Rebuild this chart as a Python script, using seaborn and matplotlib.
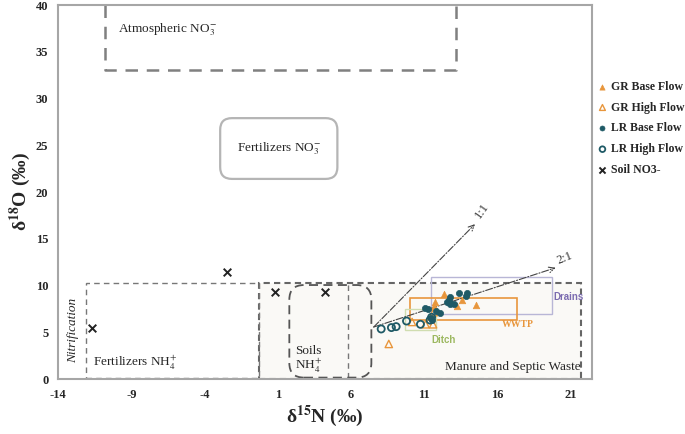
import matplotlib
matplotlib.use("Agg")
import matplotlib.pyplot as plt
from matplotlib.patches import Rectangle, FancyBboxPatch
import seaborn as sns

# values (d15N, d18O)
gr_base_x = [12.34, 11.72, 14.55, 13.55, 13.25, 11.65]
gr_base_y = [9.1, 8.2, 7.95, 8.4, 7.8, 7.8]
gr_high_x = [8.58, 10.17, 11.09, 11.6, 11.65]
gr_high_y = [3.75, 6.1, 5.85, 5.85, 7.15]
lr_base_x = [11.02, 11.25, 11.77, 12.07, 12.52, 12.68, 12.79, 13.02, 13.36, 13.82, 13.94, 11.52, 11.43, 12.73]
lr_base_y = [7.55, 7.5, 7.3, 7.1, 8.2, 8.4, 8.8, 8.05, 9.25, 8.9, 9.2, 6.35, 6.5, 8.0]
lr_high_x = [8.06, 8.76, 9.08, 9.79, 10.74, 11.5, 11.4]
lr_high_y = [5.35, 5.5, 5.6, 6.2, 5.85, 6.6, 6.3]
soil_x = [-11.7, -2.47, 0.83, 4.2]
soil_y = [5.5, 11.4, 9.3, 9.3]

x_ticks = [-14, -9, -4, 1, 6, 11, 16, 21]
y_ticks = [0, 5, 10, 15, 20, 25, 30, 35, 40]

ORANGE = "#e8963c"
TEAL = "#1f5a66"

sns.set_style("white")
plt.rcParams["font.family"] = ["Liberation Serif", "DejaVu Serif"]
plt.rcParams["mathtext.fontset"] = "stix"
plt.rcParams["axes.unicode_minus"] = False

fig = plt.figure(figsize=(6.85, 4.34), dpi=100)
ax = fig.add_axes([58 / 685, 1 - 379 / 434, (592 - 58) / 685, (379 - 5) / 434])

# source regions
ax.add_patch(Rectangle((-0.26, 0.05), 21.96, 10.25, facecolor="#faf9f6",
                       edgecolor="#666666", lw=1.5, ls=(0, (3, 2)), zorder=1))
ax.add_patch(Rectangle((-12.1, 0.1), 11.84, 10.2, facecolor="none",
                       edgecolor="#777777", lw=1.0, ls=(0, (4, 3)), zorder=1))
ax.plot([5.82, 5.82], [0.1, 10.3], color="#777777", lw=1.0, ls=(0, (4, 3)), zorder=1)
ax.add_patch(FancyBboxPatch((1.79, 0.15), 5.6, 9.9,
                            boxstyle="round,pad=0,rounding_size=1.0", mutation_aspect=1.56,
                            facecolor="none", edgecolor="#555555", lw=1.3, ls=(0, (5, 3)), zorder=2))
ax.add_patch(FancyBboxPatch((-2.93, 21.4), 8.0, 6.5,
                            boxstyle="round,pad=0,rounding_size=0.8", mutation_aspect=1.56,
                            facecolor="white", edgecolor="#b5b5b5", lw=1.6, zorder=2))
ax.plot([-10.79, -10.79, 13.14, 13.14], [40, 33.1, 33.1, 40], color="#808080",
        lw=1.8, ls=(0, (5, 3.5)), zorder=2, clip_on=False)

ax.add_patch(Rectangle((11.43, 6.9), 8.27, 4.0, facecolor="none", edgecolor="#b8b6d6", lw=1.0, zorder=2))
ax.add_patch(Rectangle((10.0, 6.35), 7.35, 2.3, facecolor="none", edgecolor=ORANGE, lw=1.2, zorder=2))
ax.add_patch(Rectangle((9.67, 5.2), 2.1, 2.3, facecolor="none", edgecolor="#d0ddb0", lw=1.0, zorder=2))

# mixing lines
arrow = dict(arrowstyle="->", color="#444444", lw=0.8, ls="-.", shrinkA=0, shrinkB=0)
ax.annotate("", xy=(14.46, 16.56), xytext=(7.55, 5.56), arrowprops=arrow, zorder=3)
ax.annotate("", xy=(19.97, 11.9), xytext=(7.55, 5.56), arrowprops=arrow, zorder=3)
ax.text(14.96, 18.0, "1:1", rotation=55, fontsize=9, ha="center", va="center", color="#333333")
ax.text(20.6, 12.9, "2:1", rotation=22, fontsize=9, ha="center", va="center", color="#333333")

# samples
sns.scatterplot(x=gr_base_x, y=gr_base_y, ax=ax, marker="^", s=22, color=ORANGE,
                edgecolor=ORANGE, linewidth=0.5, label="GR Base Flow", zorder=5)
sns.scatterplot(x=gr_high_x, y=gr_high_y, ax=ax, marker="^", s=28, facecolor="none",
                edgecolor=ORANGE, linewidth=1.0, label="GR High Flow", zorder=5)
sns.scatterplot(x=lr_base_x, y=lr_base_y, ax=ax, marker="o", s=20, color=TEAL,
                edgecolor=TEAL, linewidth=0.5, label="LR Base Flow", zorder=5)
sns.scatterplot(x=lr_high_x, y=lr_high_y, ax=ax, marker="o", s=26, facecolor="none",
                edgecolor=TEAL, linewidth=1.3, label="LR High Flow", zorder=5)
sns.scatterplot(x=soil_x, y=soil_y, ax=ax, marker="x", s=30, color="#222222",
                linewidth=1.4, label="Soil NO3-", zorder=5)

# labels
ax.text(-9.9, 37.4, r"Atmospheric NO$_3^{-}$", fontsize=9.5, va="center", ha="left")
ax.text(1.07, 24.6, r"Fertilizers NO$_3^{-}$", fontsize=9.5, va="center", ha="center")
ax.text(-13.0, 5.2, "Nitrification", fontsize=9.5, style="italic", rotation=90, va="center", ha="center")
ax.text(-11.6, 1.7, r"Fertilizers NH$_4^{+}$", fontsize=9.5, va="center", ha="left")
ax.text(2.2, 3.0, "Soils", fontsize=9.5, va="center", ha="left")
ax.text(2.2, 1.4, r"NH$_4^{+}$", fontsize=9.5, va="center", ha="left")
ax.text(21.7, 1.3, "Manure and Septic Waste", fontsize=9.5, va="center", ha="right")
ax.text(19.8, 8.75, "Drains", fontsize=7, fontweight="bold", color="#7b6bb0", va="center", ha="left",
        family=["Liberation Sans", "DejaVu Sans"])
ax.text(17.4, 5.85, "WWTP", fontsize=7, fontweight="bold", color=ORANGE, va="center", ha="center")
ax.text(12.3, 4.2, "Ditch", fontsize=7, fontweight="bold", color="#9cb860", va="center", ha="center",
        family=["Liberation Sans", "DejaVu Sans"])

ax.set_xlim(-14, 22.45)
ax.set_ylim(0, 40)
ax.set_xticks(x_ticks)
ax.set_yticks(y_ticks)
ax.tick_params(axis="both", length=3, width=1, color="#a6a6a6", labelsize=9, pad=4)
for lab in ax.get_xticklabels() + ax.get_yticklabels():
    lab.set_fontweight("bold")
for sp in ax.spines.values():
    sp.set_color("#a6a6a6")
    sp.set_linewidth(1.5)

ax.set_xlabel(r"δ$^{\mathbf{15}}$N (‰)", fontsize=14, fontweight="bold", labelpad=2)
ax.set_ylabel(r"δ$^{\mathbf{18}}$O (‰)", fontsize=14, fontweight="bold", labelpad=2)

handles, labels = ax.get_legend_handles_labels()
if ax.legend_:
    ax.legend_.remove()
fig.legend(handles, labels, loc="upper left", bbox_to_anchor=(593 / 685, 1 - 76 / 434),
           frameon=False, prop={"weight": "bold", "size": 8.5}, handlelength=0.8,
           handletextpad=0.3, labelspacing=0.75, markerscale=0.8, borderaxespad=0)

fig.savefig("out.png", dpi=100)
